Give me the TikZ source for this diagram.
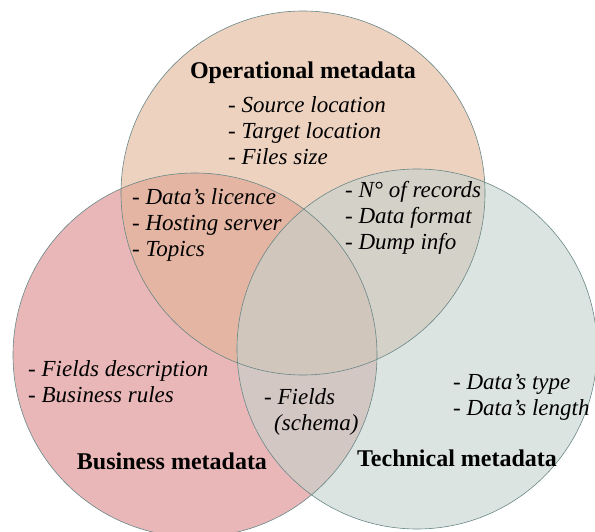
\documentclass[tikz,border=0pt]{standalone}
\usepackage{fontspec}
\setmainfont{Liberation Serif}

\definecolor{opfill}{RGB}{225,180,150}
\definecolor{busfill}{RGB}{218,135,135}
\definecolor{techfill}{RGB}{197,210,205}
\definecolor{rim}{RGB}{105,135,135}

\begin{document}
\begin{tikzpicture}[x=1pt, y=-1pt,
		setfill/.style={fill opacity=0.6},
		setrim/.style={draw=rim, line width=0.6pt},
		settitle/.style={font=\fontsize{24}{26}\selectfont\bfseries, anchor=base, inner sep=0pt},
		setitems/.style={font=\fontsize{23}{26}\selectfont\itshape, align=left, anchor=north west, inner sep=0pt}]
			\useasboundingbox (0, 0) rectangle (595, 532);
			% the three sets
			\coordinate (bus) at (195, 355);
			\coordinate (op) at (303, 193);
			\coordinate (tech) at (417, 349);
			\fill[setfill, busfill] (bus) circle[radius=182];
			\fill[setfill, opfill] (op) circle[radius=182];
			\fill[setfill, techfill] (tech) circle[radius=180];
			\draw[setrim] (bus) circle[radius=182];
			\draw[setrim] (op) circle[radius=182];
			\draw[setrim] (tech) circle[radius=180];
			% titles
			\node[settitle] (optitle) at (303, 79) {Operational metadata};
			\node[settitle] (bustitle) at (172, 469) {Business metadata};
			\node[settitle] (techtitle) at (457, 466) {Technical metadata};
			% items
			\node[setitems] (oplist) at (228, 96) {- Source location\\- Target location\\- Files size};
			\node[setitems] (liclist) at (132, 188) {- Data’s licence\\- Hosting server\\- Topics};
			\node[setitems] (reclist) at (345, 181) {- N° of records\\- Data format\\- Dump info};
			\node[setitems] (buslist) at (28, 360) {- Fields description\\- Business rules};
			\node[setitems] (fieldlist) at (264, 388) {- Fields\\\hspace*{10pt}(schema)};
			\node[setitems] (typelist) at (453, 374) {- Data’s type\\- Data’s length};
		\end{tikzpicture}
\end{document}
